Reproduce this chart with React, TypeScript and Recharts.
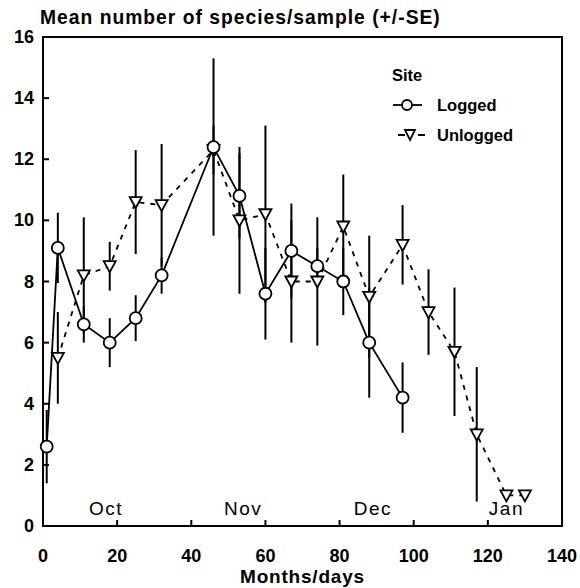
import React from "react";
import {
  ComposedChart,
  Line,
  XAxis,
  YAxis,
  ErrorBar,
  ReferenceArea,
  ReferenceLine,
} from "recharts";

// sampling days and mean species counts (+/- SE) for each site
const loggedDays = [1, 4, 11, 18, 25, 32, 46, 53, 60, 67, 74, 81, 88, 97];
const loggedMean = [2.6, 9.1, 6.6, 6.0, 6.8, 8.2, 12.4, 10.8, 7.6, 9.0, 8.5, 8.0, 6.0, 4.2];
const loggedSE = [1.2, 1.15, 0.6, 0.8, 0.75, 0.6, 2.9, 1.4, 1.5, 1.55, 0.6, 1.1, 1.8, 1.15];

const unloggedDays = [4, 11, 18, 25, 32, 46, 53, 60, 67, 74, 81, 88, 97, 104, 111, 117, 125, 130];
const unloggedMean = [5.5, 8.2, 8.5, 10.6, 10.5, 12.3, 10.0, 10.2, 8.0, 8.0, 9.8, 7.5, 9.2, 7.0, 5.7, 3.0, 1.0, 1.0];
const unloggedSE = [1.5, 1.9, 0.8, 1.7, 2.0, 0.8, 2.4, 2.9, 2.0, 2.1, 1.7, 2.0, 1.3, 1.4, 2.1, 2.2, 0, 0];

const xTicks = [0, 20, 40, 60, 80, 100, 120, 140];
const yTicks = [0, 2, 4, 6, 8, 10, 12, 14, 16];
const months = ["Oct", "Nov", "Dec", "Jan"];
const monthDays = [17, 54, 89, 125];

const loggedData = loggedDays.map((day, i) => ({ day, mean: loggedMean[i], se: loggedSE[i] }));
const unloggedData = unloggedDays.map((day, i) => ({ day, mean: unloggedMean[i], se: unloggedSE[i] }));

const W = 580;
const H = 588;
const M = { top: 37, right: 18, bottom: 0, left: 0 };
const Y_W = 43;
const X_H = 62;
const FONT = "'Liberation Sans', Arial, sans-serif";

const CircleDot = (props: any) => {
  const { cx, cy, index } = props;
  if (cx == null || cy == null) return null;
  return <circle key={"c" + index} cx={cx} cy={cy} r={6} fill="#fff" stroke="#000" strokeWidth={1.8} />;
};

const TriangleDot = (props: any) => {
  const { cx, cy, index } = props;
  if (cx == null || cy == null) return null;
  return (
    <path
      key={"t" + index}
      d={`M${cx - 6},${cy - 5}L${cx + 6},${cy - 5}L${cx},${cy + 6}Z`}
      fill="#fff"
      stroke="#000"
      strokeWidth={1.8}
    />
  );
};

// tick labels outside, tick marks pointing into the plot
const YTick = (props: any) => {
  const { x, y, payload } = props;
  const axisX = x + 9;
  const v = payload.value;
  return (
    <g>
      {v > 0 && v < 16 && <line x1={axisX} x2={axisX + 6} y1={y} y2={y} stroke="#000" strokeWidth={2} />}
      <text x={x} y={y} dy={6} textAnchor="end" fontFamily={FONT} fontWeight="bold" fontSize={18} fill="#000">
        {v}
      </text>
    </g>
  );
};

const XTick = (props: any) => {
  const { x, y, payload } = props;
  const axisY = y - 9;
  const v = payload.value;
  return (
    <g>
      {v > 0 && v < 140 && <line x1={x} x2={x} y1={axisY} y2={axisY - 6} stroke="#000" strokeWidth={2} />}
      <text x={x} y={axisY + 36} textAnchor="middle" fontFamily={FONT} fontWeight="bold" fontSize={18} fill="#000">
        {v}
      </text>
    </g>
  );
};

const boldText: React.CSSProperties = {
  position: "absolute",
  fontFamily: FONT,
  fontWeight: "bold",
  fontSize: 16.5,
  lineHeight: "18px",
  whiteSpace: "nowrap",
};

export default function App() {
  return (
    <div style={{ position: "relative", width: W, height: H }}>
      <style>{"body{margin:0}"}</style>
      <div style={{ ...boldText, left: 40, top: 9, fontSize: 19.3, letterSpacing: 1 }}>
        Mean number of species/sample (+/-SE)
      </div>
      <ComposedChart width={W} height={H} margin={M}>
        <XAxis
          dataKey="day"
          type="number"
          domain={[0, 140]}
          ticks={xTicks}
          allowDuplicatedCategory={false}
          height={X_H}
          tickSize={0}
          tickMargin={9}
          tickLine={false}
          tick={<XTick />}
          axisLine={{ stroke: "#000", strokeWidth: 2 }}
          label={{
            value: "Months/days",
            position: "insideBottom",
            offset: 5,
            fill: "#000",
            fontFamily: FONT,
            fontWeight: "bold",
            fontSize: 19,
            letterSpacing: 0.8,
          }}
        />
        <YAxis
          type="number"
          domain={[0, 16]}
          ticks={yTicks}
          width={Y_W}
          tickSize={0}
          tickMargin={9}
          tickLine={false}
          tick={<YTick />}
          axisLine={{ stroke: "#000", strokeWidth: 2 }}
        />
        <ReferenceArea x1={0} x2={140} y1={0} y2={16} fill="none" stroke="#000" strokeWidth={2} />
        {months.map((m, i) => (
          <ReferenceLine
            key={m}
            x={monthDays[i]}
            stroke="none"
            label={{
              value: m,
              position: "insideBottom",
              offset: 11,
              fill: "#000",
              fontFamily: FONT,
              fontSize: 19,
              letterSpacing: 1.5,
            }}
          />
        ))}
        <Line
          data={unloggedData}
          dataKey="mean"
          stroke="#000"
          strokeWidth={1.8}
          strokeDasharray="5 6"
          dot={<TriangleDot />}
          activeDot={false}
          isAnimationActive={false}
        >
          <ErrorBar dataKey="se" width={0} stroke="#000" strokeWidth={2} direction="y" />
        </Line>
        <Line
          data={loggedData}
          dataKey="mean"
          stroke="#000"
          strokeWidth={1.8}
          dot={<CircleDot />}
          activeDot={false}
          isAnimationActive={false}
        >
          <ErrorBar dataKey="se" width={0} stroke="#000" strokeWidth={2} direction="y" />
        </Line>
      </ComposedChart>

      {/* key, top right inside the frame */}
      <div style={{ ...boldText, left: 392, top: 66 }}>Site</div>
      <svg style={{ position: "absolute", left: 390, top: 95 }} width={50} height={60}>
        <line x1={3} x2={32} y1={10} y2={10} stroke="#000" strokeWidth={1.8} />
        <circle cx={17} cy={10} r={5} fill="#fff" stroke="#000" strokeWidth={1.8} />
        <line x1={8} x2={35} y1={40} y2={40} stroke="#000" strokeWidth={1.8} strokeDasharray="7 13" />
        <path d="M15,35L25,35L20,45Z" fill="#fff" stroke="#000" strokeWidth={1.8} />
      </svg>
      <div style={{ ...boldText, left: 437, top: 96 }}>Logged</div>
      <div style={{ ...boldText, left: 437, top: 126 }}>Unlogged</div>
    </div>
  );
}
